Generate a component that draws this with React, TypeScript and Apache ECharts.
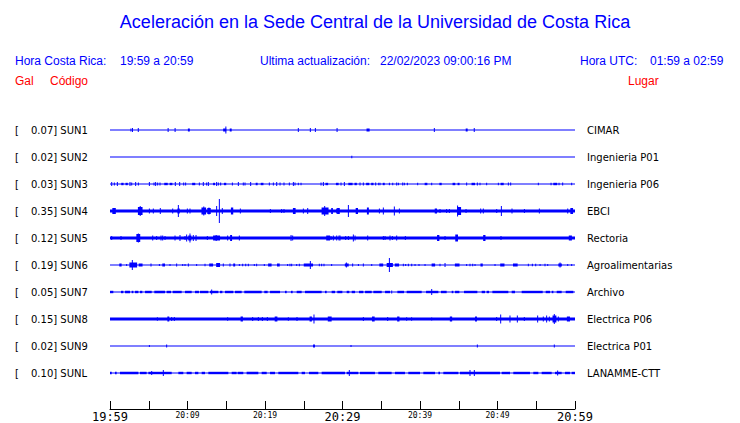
import React, { useEffect, useRef } from 'react';
import * as echarts from 'echarts';

// ---- data ----
const TITLE = 'Aceleración en la Sede Central de la Universidad de Costa Rica';
const START_HOUR = 19;
const START_MIN = 59;
const SPAN_MINUTES = 60;
const TICK_STEP = 5;
const MAJOR_LABELS = [0, 30, 60];
const MINOR_LABELS = [10, 20, 40, 50];

const STATIONS = ['SUN1', 'SUN2', 'SUN3', 'SUN4', 'SUN5', 'SUN6', 'SUN7', 'SUN8', 'SUN9', 'SUNL'];
const GAL = [0.07, 0.02, 0.03, 0.35, 0.12, 0.19, 0.05, 0.15, 0.02, 0.1];
const PLACES = ['CIMAR', 'Ingenieria P01', 'Ingenieria P06', 'EBCI', 'Rectoria', 'Agroalimentarias', 'Archivo', 'Electrica P06', 'Electrica P01', 'LANAMME-CTT'];
// background (noise) half-amplitude of each trace, in trace units (27 units = spacing between traces)
const BASE_AMP = [0.55, 0.55, 0.55, 1.5, 1.5, 0.55, 0.55, 1.5, 0.55, 0.55];

// bursts: [start minute, end minute, half-amplitude]
const SUN1_BURSTS = [[2.7, 2.7, 1.5], [2.9, 2.9, 2], [3.65, 3.65, 2], [7.5, 7.5, 2], [8.4, 8.4, 2], [10.05, 10.3, 1.5], [14.6, 15.0, 1.5], [14.95, 14.95, 3.5], [15.45, 15.7, 1.5], [24.3, 24.3, 2], [25.85, 25.85, 2], [26.5, 26.5, 2], [29.3, 29.3, 2], [33.1, 33.5, 1.5], [41.85, 41.85, 2], [45.9, 46.15, 1.5], [47.0, 47.0, 2]];
const SUN2_BURSTS = [[31.2, 31.2, 1.2]];
const SUN3_BURSTS = [[0.22, 0.22, 2], [0.56, 0.56, 1.5], [0.95, 0.95, 2], [1.45, 1.75, 1.2], [2.0, 2.3, 1.2], [2.58, 2.58, 2], [2.8, 2.8, 1.5], [3.31, 3.31, 2], [3.66, 3.66, 1.5], [5.08, 5.08, 2], [5.68, 5.68, 1.5], [5.89, 5.89, 2], [6.15, 6.15, 1.5], [6.45, 6.45, 1.5], [7.0, 7.45, 1.2], [7.7, 8.05, 1.2], [8.43, 8.43, 2], [8.99, 8.99, 2], [9.51, 9.51, 1.5], [9.76, 9.76, 1.5], [10.6, 11.0, 1.2], [11.53, 11.53, 1.5], [12.04, 12.04, 2], [12.47, 12.47, 1.5], [12.69, 12.69, 2], [13.3, 13.55, 1.2], [13.76, 13.76, 2], [13.98, 13.98, 1.5], [14.28, 14.28, 1.5], [14.7, 15.0, 1.2], [15.79, 15.79, 1.5], [16.56, 16.56, 2], [17.2, 17.2, 1.5], [17.42, 17.42, 1.5], [18.15, 18.15, 2], [18.8, 19.05, 1.2], [19.45, 19.8, 1.2], [20.56, 20.56, 1.5], [21.08, 21.08, 1.5], [21.51, 21.51, 2], [21.94, 21.94, 1.5], [22.45, 22.45, 1.5], [23.14, 23.14, 1.5], [23.66, 23.66, 2], [23.87, 23.87, 1.5], [24.3, 24.3, 1.2], [24.65, 24.65, 1.2], [27.23, 27.23, 1.5], [27.53, 27.53, 2], [27.8, 28.15, 1.2], [29.15, 29.5, 1.2], [29.81, 29.81, 1.5], [30.24, 30.24, 2], [30.75, 31.3, 1.2], [31.55, 31.85, 1.2], [32.26, 32.26, 1.5], [32.69, 32.69, 1.5], [33.05, 33.45, 1.2], [33.7, 34.0, 1.2], [34.28, 34.28, 1.5], [34.67, 34.67, 1.2], [34.84, 34.84, 1.2], [35.2, 35.45, 1.2], [36.05, 36.05, 1.2], [36.48, 36.48, 1.2], [36.99, 36.99, 1.5], [37.21, 37.21, 1.2], [37.77, 37.77, 1.5], [37.98, 37.98, 1.2], [38.37, 38.37, 1.2], [39.7, 39.7, 1.2], [40.6, 40.95, 1.2], [41.51, 41.51, 1.2], [42.5, 42.8, 1.2], [44.2, 44.55, 1.2], [44.85, 45.1, 1.2], [46.02, 46.02, 1.5], [46.65, 47.1, 1.2], [47.4, 47.4, 1.5], [47.74, 47.74, 1.2], [48.6, 48.6, 1.2], [50.11, 50.11, 1.2], [50.4, 50.8, 1.2], [51.4, 51.4, 1.5], [51.7, 51.7, 1.5], [55.27, 55.27, 1.2], [56.91, 56.91, 1.2], [57.2, 57.7, 1.2], [57.94, 57.94, 1.2], [58.41, 58.41, 1.5], [59.57, 59.57, 1.2]];
const SUN4_BURSTS = [[0.3, 0.75, 3], [3.6, 4.2, 4], [3.9, 3.9, 5], [5.08, 5.08, 2.5], [5.59, 5.59, 2.5], [6.49, 6.49, 3], [8.09, 8.09, 2.5], [8.82, 8.82, 6], [8.7, 9.0, 2.5], [9.98, 9.98, 2.5], [10.32, 10.32, 2.5], [11.8, 12.4, 3.5], [12.1, 12.1, 4.5], [12.55, 13.0, 3], [12.77, 12.77, 3.5], [13.76, 13.76, 5], [14.11, 14.11, 12], [14.49, 14.49, 3], [15.6, 15.9, 3.5], [16.82, 16.82, 2.5], [20.69, 20.69, 2], [22.15, 22.15, 2], [22.45, 22.45, 2], [23.6, 23.95, 3], [24.95, 24.95, 2.5], [25.51, 25.51, 3], [27.3, 28.2, 3.5], [27.7, 27.7, 5], [28.61, 28.61, 3], [28.69, 28.69, 3], [29.25, 29.25, 2.5], [29.3, 29.65, 3], [30.76, 30.76, 6], [31.7, 32.0, 3], [33.15, 33.4, 3.5], [34.76, 34.76, 2.5], [35.27, 35.27, 3.5], [36.69, 36.69, 4.5], [37.34, 37.34, 2.5], [41.9, 42.2, 2.5], [42.58, 42.58, 2], [43.44, 43.44, 2], [43.79, 43.79, 2], [44.8, 45.3, 4], [44.85, 44.85, 5.5], [45.94, 45.94, 2], [47.83, 47.83, 2.5], [48.17, 48.17, 2.5], [49.9, 49.9, 2], [50.5, 50.5, 5], [51.87, 51.87, 2.5], [53.47, 53.47, 2], [55.4, 55.4, 2.5], [59.06, 59.06, 2.5], [59.4, 59.75, 3]];
const SUN5_BURSTS = [[0.22, 0.22, 2], [1.42, 1.42, 2], [3.4, 3.9, 4], [3.66, 3.66, 4.5], [5.51, 5.51, 2.5], [6.02, 6.02, 2], [6.58, 6.58, 2.5], [6.8, 6.8, 2.5], [7.1, 7.1, 2], [8.39, 8.39, 2.5], [9.03, 9.03, 3], [9.68, 9.68, 2], [9.89, 9.89, 3.5], [10.1, 10.5, 2.5], [10.32, 10.32, 4.5], [10.75, 10.75, 3], [11.1, 11.1, 3], [12.56, 12.56, 2], [13.3, 14.2, 2.5], [13.7, 13.7, 3], [15.18, 15.18, 2.5], [15.5, 15.75, 3], [16.69, 16.69, 2.5], [23.36, 23.36, 3], [23.57, 23.57, 2.5], [27.9, 28.4, 2.5], [28.52, 28.52, 2], [28.82, 28.82, 2.5], [29.25, 29.25, 2.5], [29.55, 29.55, 2.5], [29.68, 29.68, 2.5], [30.41, 30.41, 2], [30.76, 30.76, 2], [31.4, 31.4, 3.5], [31.62, 31.62, 2.5], [33.25, 33.25, 2.5], [35.27, 35.27, 2], [35.49, 35.49, 2], [36.13, 36.13, 2.5], [36.43, 36.43, 2], [36.99, 36.99, 2.5], [38.11, 38.11, 2], [42.2, 42.5, 3], [43.23, 43.23, 2], [44.55, 44.9, 3.5], [48.15, 48.45, 3], [50.45, 50.45, 2], [59.2, 59.6, 2.5]];
const SUN6_BURSTS = [[1.2, 1.5, 1.5], [2.15, 2.15, 1], [2.5, 3.5, 2.5], [2.88, 2.88, 5], [3.7, 4.2, 1.5], [5.29, 5.29, 1.5], [6.37, 6.37, 1], [6.75, 7.1, 1.5], [7.74, 7.74, 1], [8.6, 8.6, 1.5], [9.38, 9.38, 1], [9.68, 9.68, 1], [10.11, 10.11, 1.5], [11.18, 11.18, 1], [12.26, 12.26, 1.2], [12.8, 13.3, 1.5], [13.7, 14.2, 2], [14.62, 14.62, 1.5], [15.48, 15.48, 1.5], [15.9, 16.15, 1.5], [16.69, 16.69, 1], [17.12, 17.12, 1.2], [17.51, 17.51, 1.2], [17.85, 17.85, 1.2], [18.62, 18.62, 1], [18.92, 18.92, 1.2], [19.91, 19.91, 1], [20.4, 20.85, 1.5], [21.55, 21.9, 1.5], [22.92, 22.92, 1], [23.22, 23.22, 1.2], [23.44, 23.44, 1.2], [24.09, 24.09, 1], [24.43, 24.43, 1.2], [25.0, 26.2, 1.5], [25.85, 25.85, 4], [27.01, 27.01, 1.2], [27.31, 27.31, 1.2], [27.61, 27.61, 1.2], [28.6, 28.6, 1], [30.3, 30.8, 1.5], [30.5, 30.5, 2.5], [31.31, 31.31, 1.5], [32.05, 32.05, 1], [32.69, 32.69, 1.5], [33.77, 33.77, 1], [34.75, 35.25, 1.5], [35.7, 36.5, 2], [36.05, 36.05, 7], [36.75, 37.3, 1.5], [37.85, 37.85, 1.2], [38.15, 38.15, 1], [38.5, 38.5, 1.2], [38.93, 38.93, 1.2], [39.36, 39.36, 1], [39.87, 39.87, 1], [40.65, 40.65, 1], [41.5, 41.95, 1.5], [42.58, 42.58, 1.2], [43.23, 43.23, 2], [44.5, 45.1, 1.5], [46.02, 46.02, 1], [46.45, 46.45, 1.2], [46.8, 46.8, 1.2], [47.1, 47.1, 1], [47.8, 48.1, 1.5], [49.68, 49.68, 1], [50.35, 50.9, 1.5], [52.0, 52.6, 1.5], [53.98, 53.98, 1.2], [54.5, 54.5, 1.2], [54.93, 54.93, 1.2], [55.49, 55.49, 1], [56.13, 56.13, 1.2], [56.48, 56.48, 1], [57.85, 58.3, 1.5], [58.07, 58.07, 2.5], [59.06, 59.06, 1], [59.57, 59.57, 1]];
const SUN7_BURSTS = [[0.0, 0.43, 1.2], [1.42, 1.72, 1.2], [1.94, 2.58, 1.2], [2.8, 3.01, 1.2], [3.23, 3.66, 1.2], [3.87, 4.17, 1.2], [4.52, 5.38, 1.2], [5.72, 7.1, 1.2], [7.31, 7.87, 1.2], [8.09, 9.25, 1.2], [9.68, 10.54, 1.2], [10.97, 11.48, 1.2], [11.61, 12.69, 1.2], [12.9, 13.98, 1.2], [13.12, 13.12, 2.5], [14.19, 14.5, 1.2], [14.84, 15.91, 1.2], [16.13, 16.99, 1.2], [17.33, 19.57, 1.2], [19.91, 20.34, 1.2], [20.65, 21.94, 1.2], [22.58, 22.8, 1.2], [23.35, 23.57, 1.2], [24.09, 24.73, 1.2], [25.16, 27.31, 1.2], [27.74, 27.96, 1.2], [28.6, 29.03, 1.2], [29.33, 29.98, 1.2], [30.54, 30.88, 1.2], [31.19, 31.62, 1.2], [32.13, 32.69, 1.2], [32.91, 33.77, 1.2], [33.98, 35.06, 1.2], [35.49, 36.13, 1.2], [36.35, 36.35, 1.5], [37.08, 37.94, 1.2], [38.28, 40.22, 1.2], [40.78, 42.37, 1.2], [41.51, 41.51, 3], [42.71, 43.44, 1.2], [44.09, 44.3, 1.2], [44.52, 45.08, 1.2], [45.68, 47.4, 1.2], [47.96, 48.39, 1.2], [48.6, 48.91, 1.2], [49.34, 51.4, 1.2], [51.83, 52.26, 1.2], [53.12, 55.83, 1.2], [56.22, 56.78, 1.2], [57.0, 57.21, 1.2], [57.64, 58.28, 1.2], [58.8, 59.79, 1.2]];
const SUN8_BURSTS = [[6.11, 6.11, 1.8], [7.4, 7.65, 2.5], [7.96, 7.96, 2], [8.3, 8.3, 2], [15.18, 15.18, 1.8], [16.85, 17.15, 2.5], [18.41, 18.41, 2], [19.14, 19.14, 2], [19.66, 19.66, 2], [20.3, 20.3, 2], [21.25, 21.6, 2.5], [23.01, 23.01, 1.8], [24.13, 24.13, 2], [25.75, 26.05, 2.5], [26.32, 26.32, 4.5], [28.1, 28.6, 2.5], [32.69, 32.69, 2], [33.8, 34.15, 2.5], [35.83, 35.83, 2], [37.05, 37.35, 2.5], [38.28, 38.28, 1.8], [38.92, 38.92, 1.8], [41.51, 41.51, 1.6], [43.85, 44.15, 2.5], [47.1, 47.35, 2.5], [49.89, 49.89, 2], [50.41, 50.41, 4.5], [51.61, 51.61, 3.5], [52.56, 52.56, 3.5], [53.46, 53.46, 2], [55.18, 55.18, 3.5], [55.91, 55.91, 2.5], [56.34, 56.34, 3.5], [56.69, 56.69, 2.5], [57.1, 57.6, 3.5], [57.33, 57.33, 5], [57.85, 57.85, 2.5], [58.95, 59.35, 2.5]];
const SUN9_BURSTS = [[5.08, 5.08, 1], [7.31, 7.31, 1.5], [26.2, 26.45, 1.5], [31.1, 31.1, 1], [47.4, 47.4, 1.5], [57.33, 57.33, 1.5]];
const SUNL_BURSTS = [[0.0, 0.22, 1.2], [0.65, 0.86, 1.2], [1.29, 3.66, 1.2], [3.87, 4.73, 1.2], [4.95, 7.96, 1.2], [5.38, 5.38, 2], [6.88, 6.88, 3], [8.82, 9.46, 1.2], [9.89, 10.54, 1.2], [10.97, 11.4, 1.2], [11.83, 12.26, 1.2], [12.69, 15.27, 1.2], [15.7, 16.34, 1.2], [16.47, 17.2, 1.2], [17.63, 19.14, 1.2], [19.57, 20.22, 1.2], [20.65, 21.29, 1.2], [21.72, 24.3, 1.2], [24.73, 25.16, 1.2], [25.68, 26.88, 1.2], [27.31, 30.32, 1.2], [30.54, 32.04, 1.2], [30.88, 30.88, 3], [32.26, 34.19, 1.2], [34.62, 36.34, 1.2], [36.77, 38.06, 1.2], [38.49, 40.0, 1.2], [40.43, 41.94, 1.2], [42.37, 42.58, 1.2], [43.01, 44.95, 1.2], [45.16, 50.32, 1.2], [46.45, 46.45, 3], [47.01, 47.01, 3], [50.54, 51.61, 1.2], [52.04, 54.19, 1.2], [54.62, 55.27, 1.2], [55.7, 56.99, 1.2], [57.42, 58.28, 1.2], [57.76, 57.76, 2.5], [58.71, 59.35, 1.2], [59.57, 60.0, 1.2]];

const TRACES = [SUN1_BURSTS, SUN2_BURSTS, SUN3_BURSTS, SUN4_BURSTS, SUN5_BURSTS, SUN6_BURSTS, SUN7_BURSTS, SUN8_BURSTS, SUN9_BURSTS, SUNL_BURSTS];
const UNITS_PER_TRACE = 27;

const BLUE = '#0000ff';
const RED = '#ff0000';
const SANS = 'Liberation Sans, Arial, sans-serif';
const DEJAVU = 'DejaVu Sans, sans-serif';
const MONO = 'DejaVu Sans Mono, monospace';

function timeLabel(m: number): string {
  const total = START_HOUR * 60 + START_MIN + m;
  const h = Math.floor(total / 60) % 24;
  const mm = total % 60;
  return `${String(h).padStart(2, '0')}:${String(mm).padStart(2, '0')}`;
}

export default function App() {
  const ref = useRef<HTMLDivElement>(null);
  useEffect(() => {
    const chart = echarts.init(ref.current!, null, { renderer: 'svg' });
    const data: number[][] = [];
    TRACES.forEach((bursts, row) => {
      data.push([0, SPAN_MINUTES, row, BASE_AMP[row]]);
      bursts.forEach(([t0, t1, a]) => data.push([t0, t1, row, a]));
    });

    const headerText = (text: string, x: number, y: number, color: string, size = 12, align = 'left') => ({
      type: 'text',
      x,
      y,
      style: { text, fill: color, font: `${size}px ${SANS}`, textAlign: align, textVerticalAlign: 'middle' },
    });

    chart.setOption({
      animation: false,
      backgroundColor: '#ffffff',
      grid: { left: 110, right: 165, top: 116.5, height: 270 },
      xAxis: {
        type: 'value',
        min: 0,
        max: SPAN_MINUTES,
        interval: TICK_STEP,
        offset: 22.5,
        splitLine: { show: false },
        axisLine: { show: true, lineStyle: { color: '#000', width: 1 } },
        axisTick: { show: true, inside: true, length: 8, lineStyle: { color: '#000' } },
        axisLabel: {
          margin: 2,
          showMinLabel: true,
          showMaxLabel: true,
          formatter: (v: number) => {
            if (MAJOR_LABELS.includes(v)) return `{big|${timeLabel(v)}}`;
            if (MINOR_LABELS.includes(v)) return `{small|${timeLabel(v)}}`;
            return '';
          },
          rich: {
            big: { fontSize: 12, fontFamily: MONO, color: '#000' },
            small: { fontSize: 8, fontFamily: MONO, color: '#000' },
          },
        },
      },
      yAxis: [
        {
          type: 'category',
          data: STATIONS,
          inverse: true,
          axisLine: { show: false },
          axisTick: { show: false },
          splitLine: { show: false },
          axisLabel: {
            align: 'left',
            margin: 95,
            color: '#000',
            fontFamily: DEJAVU,
            fontSize: 10,
            formatter: (v: string, i: number) => `{br|[}{val|${GAL[i].toFixed(2)}]} ${v}`,
            rich: {
              br: { width: 16, fontFamily: DEJAVU, fontSize: 10, color: '#000' },
              val: { fontFamily: DEJAVU, fontSize: 10, color: '#000' },
            },
          },
        },
        {
          type: 'category',
          data: PLACES,
          inverse: true,
          position: 'right',
          axisLine: { show: false },
          axisTick: { show: false },
          splitLine: { show: false },
          axisLabel: { margin: 12, color: '#000', fontFamily: DEJAVU, fontSize: 10 },
        },
      ],
      graphic: [
        headerText(TITLE, 375, 22, BLUE, 18, 'center'),
        headerText('Hora Costa Rica:', 15, 61, BLUE),
        headerText('19:59 a 20:59', 120, 61, BLUE),
        headerText('Ultima actualización:', 260, 61, BLUE),
        headerText('22/02/2023 09:00:16 PM', 380, 61, BLUE),
        headerText('Hora UTC:', 580, 61, BLUE),
        headerText('01:59 a 02:59', 650, 61, BLUE),
        headerText('Gal', 15, 81, RED),
        headerText('Código', 50, 81, RED),
        headerText('Lugar', 628, 81, RED),
      ],
      series: [
        {
          type: 'custom',
          yAxisIndex: 0,
          clip: false,
          encode: { x: [0, 1], y: 2 },
          data,
          renderItem: (params: any, api: any) => {
            const t0 = api.value(0);
            const t1 = api.value(1);
            const row = api.value(2);
            const amp = api.value(3);
            const p0 = api.coord([t0, row]);
            const p1 = api.coord([t1, row]);
            const pNext = api.coord([t0, row + 1 > 9 ? row - 1 : row + 1]);
            const unit = Math.abs(pNext[1] - p0[1]) / UNITS_PER_TRACE;
            let w = p1[0] - p0[0];
            let x = p0[0];
            if (w < 1) {
              x = x - 0.5;
              w = 1;
            }
            const h = Math.max(amp * unit * 2, 1);
            return {
              type: 'rect',
              shape: { x, y: p0[1] - h / 2, width: w, height: h },
              style: { fill: BLUE },
            };
          },
        },
      ],
    });
    return () => chart.dispose();
  }, []);
  return <div ref={ref} style={{ position: 'absolute', left: 0, top: 0, width: 740, height: 423, background: '#fff' }} />;
}
